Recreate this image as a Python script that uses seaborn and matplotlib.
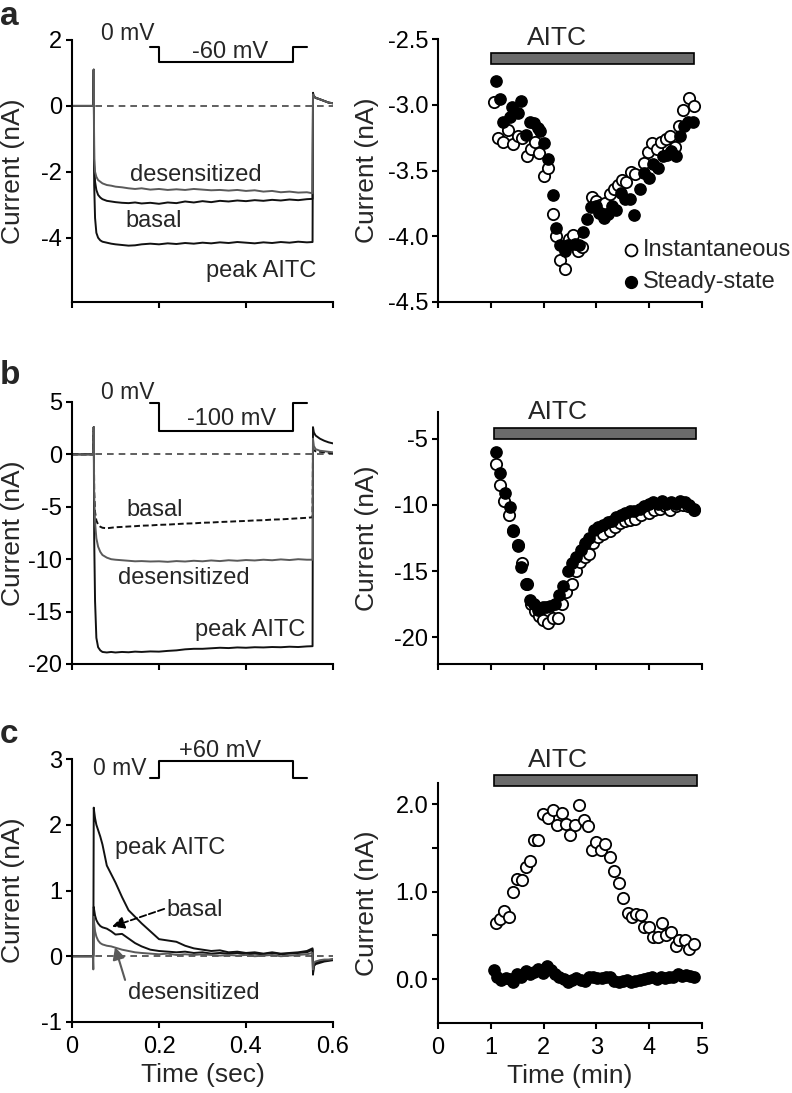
import matplotlib.pyplot as plt
import seaborn as sns
from matplotlib.patches import Rectangle

sns.set_style('ticks')
plt.rcParams['font.family'] = ['Liberation Sans', 'DejaVu Sans']
plt.rcParams['axes.unicode_minus'] = False
plt.rcParams['axes.linewidth'] = 1.5
plt.rcParams['xtick.major.width'] = 1.5
plt.rcParams['ytick.major.width'] = 1.5
plt.rcParams['xtick.major.size'] = 4
plt.rcParams['ytick.major.size'] = 4
plt.rcParams['xtick.color'] = 'black'
plt.rcParams['ytick.color'] = 'black'
plt.rcParams['axes.edgecolor'] = 'black'

BLACK = '#111111'
GREY = '#5a5a5a'

# ---- current traces (sec, nA) ----
SWEEP_T = [0.0, 0.048, 0.049, 0.050, 0.051, 0.053, 0.056, 0.06, 0.065, 0.07, 0.08, 0.09,
           0.10, 0.115, 0.13, 0.145, 0.16, 0.18, 0.20, 0.22, 0.24, 0.26, 0.28,
           0.30, 0.32, 0.34, 0.36, 0.38, 0.40, 0.42, 0.44, 0.46, 0.48, 0.50,
           0.52, 0.54, 0.553, 0.554, 0.556, 0.56, 0.57, 0.58, 0.59, 0.60]

A_DESENS = [0, 0, 0, 1.1, -1.6, -2.0, -2.15, -2.25, -2.3, -2.35, -2.4, -2.42,
            -2.45, -2.47, -2.5, -2.52, -2.5, -2.54, -2.52, -2.55, -2.53, -2.55, -2.52,
            -2.54, -2.56, -2.55, -2.57, -2.55, -2.58, -2.56, -2.6, -2.58, -2.62, -2.6,
            -2.63, -2.62, -2.65, 0.35, 0.3, 0.25, 0.2, 0.15, 0.1, 0.08]
A_BASAL = [0, 0, 0, 1.1, -1.8, -2.3, -2.55, -2.7, -2.78, -2.83, -2.88, -2.9,
           -2.92, -2.94, -2.95, -2.93, -2.96, -2.94, -2.97, -2.93, -2.95, -2.9, -2.93,
           -2.89, -2.92, -2.88, -2.9, -2.87, -2.89, -2.86, -2.88, -2.85, -2.87, -2.84,
           -2.86, -2.83, -2.82, 0.3, 0.28, 0.24, 0.2, 0.15, 0.1, 0.08]
A_PEAK = [0, 0, 0, 1.1, -2.4, -3.4, -3.85, -4.0, -4.08, -4.12, -4.15, -4.18,
          -4.2, -4.22, -4.24, -4.23, -4.2, -4.18, -4.2, -4.17, -4.19, -4.16, -4.18,
          -4.15, -4.17, -4.14, -4.16, -4.13, -4.15, -4.17, -4.14, -4.16, -4.13, -4.15,
          -4.12, -4.14, -4.13, 0.4, 0.3, 0.25, 0.2, 0.15, 0.1, 0.08]

B_DESENS = [0, 0, 0, 2.6, -4.0, -6.5, -8.0, -8.8, -9.3, -9.6, -9.85, -10.0,
            -10.05, -10.1, -10.15, -10.2, -10.18, -10.22, -10.2, -10.25, -10.18, -10.22, -10.15,
            -10.2, -10.12, -10.18, -10.1, -10.15, -10.08, -10.12, -10.05, -10.1, -10.02, -10.08,
            -10.0, -10.05, -10.05, 1.5, 0.8, 0.5, 0.35, 0.3, 0.25, 0.2]
B_BASAL = [0, 0, 0, 2.6, -3.5, -5.5, -6.3, -6.7, -6.9, -7.0, -7.05, -7.0,
           -6.95, -6.92, -6.88, -6.85, -6.8, -6.78, -6.72, -6.7, -6.65, -6.6, -6.58,
           -6.52, -6.5, -6.45, -6.42, -6.38, -6.35, -6.3, -6.28, -6.22, -6.2, -6.15,
           -6.1, -6.05, -6.0, 0.5, 0.4, 0.3, 0.25, 0.2, 0.15, 0.12]
B_PEAK = [0, 0, 0, 2.6, -8.0, -14.0, -17.5, -18.4, -18.7, -18.85, -18.9, -18.85,
          -18.9, -18.85, -18.88, -18.82, -18.85, -18.8, -18.82, -18.75, -18.7, -18.6, -18.55,
          -18.55, -18.5, -18.45, -18.48, -18.42, -18.45, -18.4, -18.42, -18.38, -18.4, -18.35,
          -18.38, -18.32, -18.3, 2.6, 2.1, 1.8, 1.5, 1.3, 1.15, 1.05]

C_DESENS = [0, 0, -0.2, 0.6, 0.5, 0.38, 0.3, 0.24, 0.2, 0.18, 0.16, 0.15,
            0.13, 0.1, 0.08, 0.06, 0.05, 0.04, 0.03, 0.04, 0.02, 0.03, 0.02,
            0.03, 0.02, 0.01, 0.02, 0.01, 0.02, 0.0, 0.01, 0.02, 0.0, 0.01,
            0.02, 0.03, 0.05, -0.2, -0.1, -0.08, -0.06, -0.05, -0.05, -0.04]
C_BASAL = [0, 0, 0, 0.75, 0.7, 0.62, 0.55, 0.5, 0.46, 0.44, 0.42, 0.38,
           0.33, 0.34, 0.27, 0.2, 0.15, 0.1, 0.08, 0.07, 0.06, 0.07, 0.05,
           0.06, 0.04, 0.05, 0.04, 0.05, 0.03, 0.04, 0.03, 0.05, 0.03, 0.04,
           0.05, 0.06, 0.1, -0.25, -0.14, -0.1, -0.08, -0.07, -0.06, -0.05]
C_PEAK = [0, 0, 0, 2.26, 2.2, 2.1, 2.0, 1.92, 1.82, 1.7, 1.38, 1.25,
          1.12, 0.9, 0.7, 0.6, 0.5, 0.38, 0.26, 0.24, 0.22, 0.16, 0.12,
          0.1, 0.08, 0.09, 0.06, 0.07, 0.05, 0.06, 0.04, 0.06, 0.04, 0.05,
          0.06, 0.08, 0.12, -0.28, -0.15, -0.12, -0.1, -0.08, -0.07, -0.06]

# voltage protocol drawn above the traces
STEP_T = [0.18, 0.20, 0.20, 0.508, 0.508, 0.54]
A_STEP = [1.8, 1.8, 1.33, 1.33, 1.8, 1.8]
B_STEP = [4.86, 4.86, 2.2, 2.2, 4.86, 4.86]
C_STEP = [2.71, 2.71, 2.97, 2.97, 2.71, 2.71]

# ---- time courses (min, nA) ----
A_SS_T = [1.09, 1.17, 1.24, 1.36, 1.41, 1.52, 1.58, 1.67, 1.74, 1.81, 1.89, 1.94,
          2.01, 2.08, 2.17, 2.24, 2.32, 2.40, 2.46, 2.59, 2.67, 2.75, 2.82, 2.89,
          2.99, 3.05, 3.14, 3.22, 3.30, 3.38, 3.47, 3.55, 3.63, 3.72, 3.82, 3.91,
          3.99, 4.07, 4.17, 4.26, 4.34, 4.42, 4.50, 4.58, 4.65, 4.73, 4.83]
A_SS = [-2.82, -2.96, -3.13, -3.09, -3.02, -3.06, -2.97, -3.23, -3.13, -3.14, -3.18, -3.20,
        -3.29, -3.41, -3.69, -3.94, -4.07, -4.11, -4.07, -4.06, -4.07, -3.97, -3.87, -3.78,
        -3.77, -3.82, -3.86, -3.83, -3.77, -3.80, -3.67, -3.72, -3.72, -3.84, -3.64, -3.52,
        -3.56, -3.45, -3.48, -3.39, -3.38, -3.35, -3.39, -3.24, -3.16, -3.13, -3.13]
A_INST_T = [1.07, 1.14, 1.23, 1.33, 1.42, 1.52, 1.60, 1.69, 1.77, 1.83, 1.91, 2.00,
            2.08, 2.17, 2.24, 2.32, 2.41, 2.48, 2.56, 2.65, 2.73, 2.92, 3.00, 3.07,
            3.16, 3.25, 3.33, 3.41, 3.49, 3.57, 3.66, 3.74, 3.90, 3.98, 4.06, 4.14,
            4.22, 4.31, 4.39, 4.48, 4.57, 4.64, 4.75, 4.84]
A_INST = [-2.98, -3.25, -3.28, -3.19, -3.30, -3.24, -3.25, -3.39, -3.34, -3.28, -3.37, -3.54,
          -3.48, -3.83, -4.00, -4.18, -4.25, -4.02, -3.99, -4.11, -4.08, -3.70, -3.73, -3.76,
          -3.75, -3.68, -3.64, -3.61, -3.57, -3.59, -3.51, -3.53, -3.44, -3.36, -3.29, -3.34,
          -3.28, -3.26, -3.24, -3.32, -3.16, -3.04, -2.95, -3.01]

B_SS_T = [1.09, 1.18, 1.26, 1.36, 1.42, 1.52, 1.58, 1.67, 1.74, 1.81, 1.89, 1.98,
          2.05, 2.13, 2.21, 2.29, 2.37, 2.46, 2.54, 2.62, 2.70, 2.78, 2.86, 2.95,
          3.03, 3.13, 3.22, 3.30, 3.38, 3.47, 3.55, 3.63, 3.72, 3.82, 3.91, 3.99,
          4.07, 4.17, 4.25, 4.32, 4.42, 4.50, 4.58, 4.67, 4.75, 4.84]
B_SS = [-6.0, -7.6, -9.1, -10.2, -11.9, -13.1, -14.7, -16.0, -17.2, -17.5, -17.9, -17.7,
        -17.7, -17.6, -17.5, -16.8, -16.1, -15.0, -14.4, -13.9, -13.4, -12.9, -12.5, -11.9,
        -11.7, -11.5, -11.3, -11.2, -10.9, -10.8, -10.6, -10.5, -10.5, -10.3, -10.1, -9.9,
        -9.8, -9.9, -9.7, -9.9, -9.8, -9.9, -9.7, -9.8, -10.0, -10.3]
B_INST_T = [1.09, 1.17, 1.25, 1.34, 1.42, 1.52, 1.59, 1.69, 1.76, 1.83, 1.91, 1.99,
            2.08, 2.17, 2.27, 2.35, 2.43, 2.53, 2.61, 2.68, 2.78, 2.86, 2.94, 3.03,
            3.13, 3.25, 3.35, 3.44, 3.54, 3.63, 3.74, 3.85, 3.99, 4.10, 4.20, 4.29,
            4.40, 4.51, 4.64, 4.73, 4.84]
B_INST = [-6.9, -8.5, -9.7, -10.8, -12.0, -13.0, -14.4, -16.0, -17.5, -18.0, -18.4, -18.7,
          -18.9, -18.5, -18.5, -17.5, -16.6, -16.0, -15.0, -14.3, -13.9, -13.7, -12.9, -12.4,
          -12.2, -12.0, -11.7, -11.4, -11.2, -11.15, -11.1, -10.8, -10.65, -10.4, -10.3, -10.1,
          -10.4, -10.1, -10.0, -10.1, -10.4]

C_INST_T = [1.09, 1.17, 1.25, 1.34, 1.42, 1.50, 1.60, 1.67, 1.75, 1.81, 1.89, 1.99,
            2.08, 2.17, 2.25, 2.35, 2.42, 2.50, 2.59, 2.67, 2.76, 2.84, 2.91, 3.00,
            3.09, 3.17, 3.25, 3.33, 3.43, 3.50, 3.60, 3.68, 3.75, 3.84, 3.91, 3.99,
            4.07, 4.16, 4.25, 4.32, 4.42, 4.51, 4.57, 4.67, 4.75, 4.85]
C_INST = [0.64, 0.69, 0.78, 0.71, 0.99, 1.14, 1.13, 1.28, 1.35, 1.59, 1.59, 1.89,
          1.84, 1.93, 1.76, 1.90, 1.77, 1.65, 1.76, 1.99, 1.82, 1.75, 1.47, 1.57,
          1.47, 1.54, 1.40, 1.23, 1.10, 0.93, 0.76, 0.71, 0.75, 0.73, 0.60, 0.60,
          0.48, 0.48, 0.64, 0.51, 0.54, 0.38, 0.45, 0.45, 0.34, 0.40]
C_SS_T = [1.06, 1.12, 1.20, 1.28, 1.36, 1.42, 1.50, 1.58, 1.66, 1.74, 1.82, 1.90,
          1.98, 2.06, 2.14, 2.22, 2.30, 2.38, 2.46, 2.54, 2.62, 2.70, 2.78, 2.86,
          2.94, 3.02, 3.10, 3.18, 3.26, 3.34, 3.42, 3.50, 3.58, 3.66, 3.74, 3.82,
          3.90, 3.98, 4.06, 4.14, 4.22, 4.30, 4.38, 4.46, 4.54, 4.62, 4.70, 4.78, 4.84]
C_SS = [0.10, 0.02, -0.01, 0.01, 0.00, -0.03, 0.06, 0.02, 0.09, 0.06, 0.08, 0.12,
        0.07, 0.15, 0.10, 0.06, 0.03, 0.00, -0.03, -0.01, 0.01, -0.01, -0.02, 0.02,
        0.02, 0.01, 0.01, 0.02, 0.02, -0.02, -0.03, -0.02, -0.01, -0.03, -0.02, -0.01,
        0.00, 0.01, 0.02, 0.00, 0.02, 0.01, 0.02, 0.03, 0.06, 0.04, 0.05, 0.04, 0.02]

# AITC application (min)
AITC_ON = [1.0, 1.06, 1.06]
AITC_OFF = [4.85, 4.89, 4.9]

W, H = 792, 1093
fig = plt.figure(figsize=(W / 100, H / 100), dpi=100)


def rect(x0, x1, top, bottom):
    return [x0 / W, 1 - bottom / H, (x1 - x0) / W, (bottom - top) / H]


def style_axes(ax):
    sns.despine(ax=ax)
    ax.tick_params(direction='out', labelsize=17, pad=3)
    ax.tick_params(axis='x', pad=6)


def trace_panel(ax, traces, step, ylim, yticks, show_x):
    ax.axhline(0, color='#444444', lw=1.2, ls=(0, (4, 3)), zorder=1)
    for vals, col, ls in traces:
        sns.lineplot(x=SWEEP_T, y=vals, ax=ax, color=col, lw=1.4, ls=ls,
                     sort=False, estimator=None, zorder=2)
    ax.plot(STEP_T, step, color='black', lw=1.5, clip_on=False)
    ax.set_xlim(0, 0.6)
    ax.set_ylim(*ylim)
    ax.set_yticks(yticks)
    ax.set_xticks([0, 0.2, 0.4, 0.6])
    ax.set_xticklabels(['0', '0.2', '0.4', '0.6'] if show_x else [])
    ax.set_ylabel('Current (nA)', fontsize=19)
    ax.yaxis.set_label_coords(-0.18, 0.5)
    style_axes(ax)


def course_panel(ax, inst_t, inst, ss_t, ss, ylim, on, off, bar, show_x):
    sns.scatterplot(x=inst_t, y=inst, ax=ax, marker='o', s=66, facecolor='white',
                    edgecolor='black', linewidth=1.3, label='Instantaneous', zorder=3)
    sns.scatterplot(x=ss_t, y=ss, ax=ax, marker='o', s=66, color='black',
                    edgecolor='black', linewidth=1.0, label='Steady-state', zorder=4)
    ax.add_patch(Rectangle((on, bar[0]), off - on, bar[1] - bar[0], facecolor='#6b6b6b',
                           edgecolor='black', lw=1.2, clip_on=False, zorder=5))
    ax.set_xlim(0, 5)
    ax.set_ylim(*ylim)
    ax.set_xticks(range(6))
    ax.set_xticklabels([str(i) for i in range(6)] if show_x else [])
    ax.set_ylabel('Current (nA)', fontsize=19)
    ax.yaxis.set_label_coords(-0.225, 0.5)
    style_axes(ax)


# ---- row a ----
ax = fig.add_axes(rect(72, 333, 40, 302))
trace_panel(ax, [(A_PEAK, BLACK, '-'), (A_BASAL, BLACK, '-'), (A_DESENS, GREY, '-')],
            A_STEP, (-5.95, 2), [2, 0, -2, -4], False)
ax.text(0.189, 2.2, '0 mV', ha='right', va='center', fontsize=16.5)
ax.text(0.363, 1.65, '-60 mV', ha='center', va='center', fontsize=17)
ax.text(0.133, -2.1, 'desensitized', ha='left', va='center', fontsize=17)
ax.text(0.122, -3.5, 'basal', ha='left', va='center', fontsize=17)
ax.text(0.308, -5.0, 'peak AITC', ha='left', va='center', fontsize=17)

ax = fig.add_axes(rect(438, 702, 39, 302))
course_panel(ax, A_INST_T, A_INST, A_SS_T, A_SS, (-4.5, -2.5), AITC_ON[0], AITC_OFF[0],
             (-2.69, -2.61), False)
ax.set_yticks([-2.5, -3.0, -3.5, -4.0, -4.5])
ax.set_yticklabels(['-2.5', '-3.0', '-3.5', '-4.0', '-4.5'])
ax.text(2.25, -2.49, 'AITC', ha='center', va='center', fontsize=19)
ax.legend(loc='lower left', bbox_to_anchor=(0.685, 0.035), frameon=False, fontsize=17,
          handletextpad=0.0, borderpad=0, labelspacing=0.42, handlelength=1.0,
          borderaxespad=0, markerscale=1.05)

# ---- row b ----
ax = fig.add_axes(rect(72, 333, 402, 664))
trace_panel(ax, [(B_PEAK, BLACK, '-'), (B_BASAL, BLACK, (0, (3, 1.5))), (B_DESENS, GREY, '-')],
            B_STEP, (-20, 5), [5, 0, -5, -10, -15, -20], False)
ax.text(0.189, 5.9, '0 mV', ha='right', va='center', fontsize=16.5)
ax.text(0.367, 3.4, '-100 mV', ha='center', va='center', fontsize=17)
ax.text(0.126, -5.3, 'basal', ha='left', va='center', fontsize=17)
ax.text(0.106, -11.8, 'desensitized', ha='left', va='center', fontsize=17)
ax.text(0.283, -16.8, 'peak AITC', ha='left', va='center', fontsize=17)

ax = fig.add_axes(rect(438, 702, 412, 664))
course_panel(ax, B_INST_T, B_INST, B_SS_T, B_SS, (-22, -3), AITC_ON[1], AITC_OFF[1],
             (-5.0, -4.2), False)
ax.set_yticks([-5, -10, -15, -20])
ax.text(2.27, -3.0, 'AITC', ha='center', va='center', fontsize=19)
ax.get_legend().remove()

# ---- row c ----
ax = fig.add_axes(rect(72, 333, 759, 1022))
trace_panel(ax, [(C_PEAK, BLACK, '-'), (C_BASAL, BLACK, '-'), (C_DESENS, GREY, '-')],
            C_STEP, (-1, 3), [3, 2, 1, 0, -1], True)
ax.set_xlabel('Time (sec)', fontsize=19)
ax.text(0.172, 2.86, '0 mV', ha='right', va='center', fontsize=16.5)
ax.text(0.34, 3.12, '+60 mV', ha='center', va='center', fontsize=17)
ax.text(0.099, 1.65, 'peak AITC', ha='left', va='center', fontsize=17)
ax.text(0.218, 0.7, 'basal', ha='left', va='center', fontsize=17)
ax.annotate('', xy=(0.092, 0.45), xytext=(0.212, 0.72),
            arrowprops=dict(arrowstyle='-|>', color='black', lw=1.3, ls='--',
                            mutation_scale=18, shrinkA=0, shrinkB=0))
ax.text(0.129, -0.56, 'desensitized', ha='left', va='center', fontsize=17)
ax.annotate('', xy=(0.099, 0.14), xytext=(0.122, -0.36),
            arrowprops=dict(arrowstyle='-|>', color=GREY, lw=1.5,
                            mutation_scale=18, shrinkA=0, shrinkB=0))

ax = fig.add_axes(rect(438, 702, 783, 1023))
course_panel(ax, C_INST_T, C_INST, C_SS_T, C_SS, (-0.5, 2.24), AITC_ON[2], AITC_OFF[2],
             (2.21, 2.33), True)
ax.set_yticks([0, 0.5, 1.0, 1.5, 2.0])
ax.set_yticklabels(['0.0', '', '1.0', '', '2.0'])
ax.set_xlabel('Time (min)', fontsize=19)
ax.text(2.27, 2.5, 'AITC', ha='center', va='center', fontsize=19)
ax.get_legend().remove()

for letter, ybase in zip('abc', [25, 384, 743]):
    fig.text(0.0, 1 - ybase / H, letter, fontsize=24, fontweight='bold', va='baseline')

fig.savefig('out.png', dpi=100)
